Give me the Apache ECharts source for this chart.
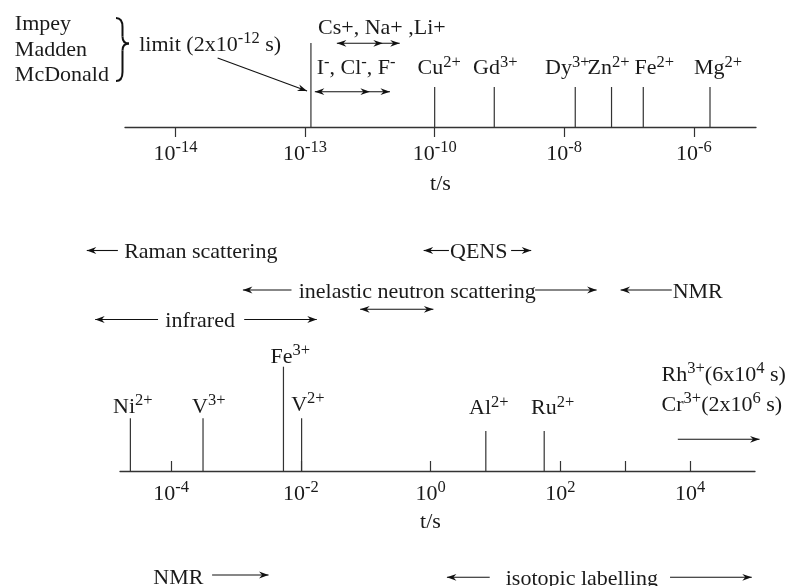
<!DOCTYPE html>
<html><head><meta charset="utf-8">
<script src="https://cdn.jsdelivr.net/npm/echarts@6/dist/echarts.min.js"></script>
<style>html,body{margin:0;padding:0;background:#fff}#c{width:789px;height:586px}</style>
</head><body><div id="c"></div>
<script>
// ================= DATA (x values are log10 of t / s) =================
// --- top panel ---
const topTickValues = [-14, -12, -10, -8, -6];
const topTickLabels = ['10^-14', '10^-13', '10^-10', '10^-8', '10^-6'];
const topIonNames   = ['Cu^2+', 'Gd^3+', 'Dy^3+', 'Zn^2+', 'Fe^2+', 'Mg^2+'];
const topIonLogT    = [-10, -9.08, -7.83, -7.27, -6.78, -5.75];
const limitLogT     = -11.91;                 // 2x10^-12 s limit
const limitText     = 'limit (2x10^-12 s)';
const authors       = ['Impey', 'Madden', 'McDonald'];
const cationText    = 'Cs+, Na+ ,Li+';
const cationRange   = [-11.51, -10.80, -10.54]; // start, inner head, end
const anionText     = 'I^-, Cl^-, F^-';
const anionRange    = [-11.85, -11.00, -10.69];

// --- techniques (same log10 t scale as top axis) ---
const techNames      = ['Raman scattering', 'QENS', 'inelastic neutron scattering', 'NMR', 'infrared'];
const techCenter     = [-13.61, -9.32, -10.27, -5.94, -13.62];
const techLeftArrow  = [[-15.37, -14.89], [-10.17, -9.78], [-12.96, -12.21], [-7.13, -6.34], [-15.24, -14.27]];
const techRightArrow = [null, [-8.82, -8.51], [-8.45, -7.50], null, [-12.94, -11.82]];
const techDoubleArrow = [-11.15, -10.02];

// --- bottom panel ---
const bottomTickValues  = [-4, -2, 0, 2, 3, 4];
const bottomLabelValues = [-4, -2, 0, 2, 4];
const bottomTickLabels  = ['10^-4', '10^-2', '10^0', '10^2', '10^4'];
const bottomIonNames    = ['Ni^2+', 'V^3+', 'Fe^3+', 'V^2+', 'Al^2+', 'Ru^2+'];
const bottomIonLogT     = [-4.63, -3.51, -2.27, -1.99, 0.85, 1.75];
const slowIons          = ['Rh^3+(6x10^4 s)', 'Cr^3+(2x10^6 s)'];
const slowStart         = 3.56;
const slowArrow         = [3.81, 5.07];
const bottomTechNames   = ['NMR', 'isotopic labelling'];
const bottomTechCenter  = [-3.89, 2.33];
const bottomTechLeft    = [null, [0.25, 0.91]];
const bottomTechRight   = [[-3.37, -2.50], [3.69, 4.95]];

// ================= LAYOUT / STYLE =================
const FONT = "'Liberation Serif','Times New Roman',serif";
const TXT = '#1a1a1a', LINE = '#333';
const LAY = {
  topLineLen: 40, limitLen: 84, topLabelY: 60.3,
  topLabelShift: [4.5, 1, -8, -3, 11, 8],
  authorX: -16.48, authorY: [104.3, 78.6, 53.6],
  limitTextX: -14.56, limitTextY: 83.6,
  limitArrow: [-13.35, 69, -11.97, 36],
  cationTextX: -11.80, cationTextY: 100.3, cationArrowY: 83.7,
  anionTextX: -11.82, anionTextY: 60.3, anionArrowY: 35.3,
  techRow: [79.5, 79.5, 40, 40, 10.5], techDoubleY: 20.7,
  bottomLineLen: [52.7, 52.7, 104.3, 52.7, 40, 40],
  bottomLabelY: [66, 66, 116, 67.6, 64.3, 64.3],
  bottomLabelShift: [2.5, 5.7, 6.8, 6.3, 3, 8.5],
  slowY: [97.6, 67.6], slowArrowY: 31.7,
  bottomTechY: [-105.7, -106], bottomTechArrowY: [-104, -106.3]
};

function toRich(str) {
  let out = '', last = 0, m;
  const re = /\^([-+0-9]+)/g;
  while ((m = re.exec(str))) {
    if (m.index > last) out += '{b|' + str.slice(last, m.index) + '}';
    out += '{s|' + m[1] + '}';
    last = re.lastIndex;
  }
  if (last < str.length) out += '{b|' + str.slice(last) + '}';
  return out;
}
const RICH = {
  b: {fontFamily: FONT, fontSize: 22, lineHeight: 26, verticalAlign: 'bottom', color: TXT},
  s: {fontFamily: FONT, fontSize: 16.5, lineHeight: 20, verticalAlign: 'top', color: TXT}
};

// ---------- element specs ----------
function arrow(list, x1, x2, y, heads) { list.push({kind: 'arrow', x1, x2, y, heads}); }
const topSpecs = [], midSpecs = [], botSpecs = [];

topIonNames.forEach((n, i) => {
  topSpecs.push({kind: 'vline', x: topIonLogT[i], len: LAY.topLineLen});
  topSpecs.push({kind: 'text', x: topIonLogT[i], y: LAY.topLabelY, text: n, align: 'center', dx: LAY.topLabelShift[i]});
});
topSpecs.push({kind: 'vline', x: limitLogT, len: LAY.limitLen});
topSpecs.push({kind: 'slant', p: LAY.limitArrow});
topSpecs.push({kind: 'text', x: LAY.limitTextX, y: LAY.limitTextY, text: limitText, align: 'left'});
authors.forEach((a, i) => topSpecs.push({kind: 'text', x: LAY.authorX, y: LAY.authorY[i], text: a, align: 'left'}));
topSpecs.push({kind: 'text', x: LAY.cationTextX, y: LAY.cationTextY, text: cationText, align: 'left'});
arrow(topSpecs, cationRange[0], cationRange[2], LAY.cationArrowY, [[cationRange[0], -1], [cationRange[1], 1], [cationRange[2], 1]]);
topSpecs.push({kind: 'text', x: LAY.anionTextX, y: LAY.anionTextY, text: anionText, align: 'left'});
arrow(topSpecs, anionRange[0], anionRange[2], LAY.anionArrowY, [[anionRange[0], -1], [anionRange[1], 1], [anionRange[2], 1]]);

techNames.forEach((n, i) => {
  const y = LAY.techRow[i];
  midSpecs.push({kind: 'text', x: techCenter[i], y, text: n, align: 'center'});
  const l = techLeftArrow[i], r = techRightArrow[i];
  if (l) arrow(midSpecs, l[0], l[1], y, [[l[0], -1]]);
  if (r) arrow(midSpecs, r[0], r[1], y, [[r[1], 1]]);
});
arrow(midSpecs, techDoubleArrow[0], techDoubleArrow[1], LAY.techDoubleY, [[techDoubleArrow[0], -1], [techDoubleArrow[1], 1]]);

bottomIonNames.forEach((n, i) => {
  botSpecs.push({kind: 'vline', x: bottomIonLogT[i], len: LAY.bottomLineLen[i]});
  botSpecs.push({kind: 'text', x: bottomIonLogT[i], y: LAY.bottomLabelY[i], text: n, align: 'center', dx: LAY.bottomLabelShift[i]});
});
slowIons.forEach((n, i) => botSpecs.push({kind: 'text', x: slowStart, y: LAY.slowY[i], text: n, align: 'left'}));
arrow(botSpecs, slowArrow[0], slowArrow[1], LAY.slowArrowY, [[slowArrow[1], 1]]);
bottomTechNames.forEach((n, i) => {
  botSpecs.push({kind: 'text', x: bottomTechCenter[i], y: LAY.bottomTechY[i], text: n, align: 'center'});
  const l = bottomTechLeft[i], r = bottomTechRight[i], ay = LAY.bottomTechArrowY[i];
  if (l) arrow(botSpecs, l[0], l[1], ay, [[l[0], -1]]);
  if (r) arrow(botSpecs, r[0], r[1], ay, [[r[1], 1]]);
});

// ---------- renderer ----------
function head(tx, ty, ux, uy) {
  const L = 9.5, W = 3.4, N = 6.5, px = -uy, py = ux;
  return {type: 'polygon', shape: {points: [
    [tx, ty],
    [tx - ux * L + px * W, ty - uy * L + py * W],
    [tx - ux * N, ty - uy * N],
    [tx - ux * L - px * W, ty - uy * L - py * W]
  ]}, style: {fill: '#111'}};
}
function makeRenderer(specs) {
  return function (params, api) {
    const s = specs[params.dataIndex];
    const P = (x, y) => api.coord([x, y]);
    const ch = [];
    if (s.kind === 'vline') {
      const a = P(s.x, 0), b = P(s.x, s.len);
      ch.push({type: 'line', shape: {x1: a[0], y1: a[1], x2: b[0], y2: b[1]}, style: {stroke: LINE, lineWidth: 1.2}});
    } else if (s.kind === 'arrow') {
      const a = P(s.x1, s.y), b = P(s.x2, s.y);
      ch.push({type: 'line', shape: {x1: a[0], y1: a[1], x2: b[0], y2: b[1]}, style: {stroke: '#111', lineWidth: 1.1}});
      s.heads.forEach(h => { const t = P(h[0], s.y); ch.push(head(t[0], t[1], h[1], 0)); });
    } else if (s.kind === 'slant') {
      const a = P(s.p[0], s.p[1]), b = P(s.p[2], s.p[3]);
      const dx = b[0] - a[0], dy = b[1] - a[1], d = Math.hypot(dx, dy);
      ch.push({type: 'line', shape: {x1: a[0], y1: a[1], x2: b[0], y2: b[1]}, style: {stroke: '#111', lineWidth: 1.1}});
      ch.push(head(b[0], b[1], dx / d, dy / d));
    } else if (s.kind === 'text') {
      const a = P(s.x, s.y);
      ch.push({type: 'text', x: a[0] + (s.dx || 0), y: a[1], style: {
        text: toRich(s.text), rich: RICH, align: s.align, verticalAlign: 'middle',
        fontFamily: FONT, fontSize: 22, fill: TXT}});
    }
    return {type: 'group', children: ch};
  };
}
function customSeries(specs, idx) {
  return {type: 'custom', xAxisIndex: idx, yAxisIndex: idx, clip: false, silent: true, animation: false,
    renderItem: makeRenderer(specs),
    data: specs.map(s => [s.x !== undefined ? s.x : (s.x1 !== undefined ? s.x1 : s.p[0]), s.y !== undefined ? s.y : 0])};
}

// curly brace (decoration) built from quadratic curves
const bx0 = 116, bxm = 122.5, bxt = 129, by0 = 18, byt = 43.5, by1 = 81;
const braceStyle = {stroke: '#111', lineWidth: 2, fill: 'none'};
const braceParts = [
  {type: 'bezierCurve', shape: {x1: bx0, y1: by0, cpx1: bxm, cpy1: by0, x2: bxm, y2: by0 + 9}},
  {type: 'line', shape: {x1: bxm, y1: by0 + 9, x2: bxm, y2: byt - 7}},
  {type: 'bezierCurve', shape: {x1: bxm, y1: byt - 7, cpx1: bxm, cpy1: byt, x2: bxt, y2: byt}},
  {type: 'bezierCurve', shape: {x1: bxt, y1: byt, cpx1: bxm, cpy1: byt, x2: bxm, y2: byt + 7}},
  {type: 'line', shape: {x1: bxm, y1: byt + 7, x2: bxm, y2: by1 - 9}},
  {type: 'bezierCurve', shape: {x1: bxm, y1: by1 - 9, cpx1: bxm, cpy1: by1, x2: bx0, y2: by1}}
].map(p => Object.assign(p, {silent: true, style: braceStyle}));

const axisLineStyle = {lineStyle: {color: LINE, width: 1.3}};
const chart = echarts.init(document.getElementById('c'), null, {renderer: 'canvas'});
chart.setOption({
  backgroundColor: '#fff',
  animation: false,
  grid: [
    {left: 125, right: 33, top: 27, height: 100},
    {left: 125, right: 33, top: 230, height: 100},
    {left: 120, right: 34, top: 371, height: 100}
  ],
  xAxis: [
    {gridIndex: 0, type: 'value', min: -14.78, max: -5.04, splitLine: {show: false},
     axisLine: axisLineStyle,
     axisTick: {customValues: topTickValues, length: 10, inside: false, lineStyle: {color: LINE, width: 1.2}},
     axisLabel: {customValues: topTickValues, margin: 12, rich: RICH,
       formatter: v => toRich(topTickLabels[topTickValues.indexOf(v)])},
     name: 't/s', nameLocation: 'middle', nameGap: 44,
     nameTextStyle: {fontFamily: FONT, fontSize: 22, color: TXT, lineHeight: 26}},
    {gridIndex: 1, type: 'value', min: -14.78, max: -5.04, show: false},
    {gridIndex: 2, type: 'value', min: -4.79, max: 5.0, splitLine: {show: false},
     axisLine: axisLineStyle,
     axisTick: {customValues: bottomTickValues, length: 10, inside: true, lineStyle: {color: LINE, width: 1.2}},
     axisLabel: {customValues: bottomLabelValues, margin: 8.5, rich: RICH,
       formatter: v => toRich(bottomTickLabels[bottomLabelValues.indexOf(v)])},
     name: 't/s', nameLocation: 'middle', nameGap: 38,
     nameTextStyle: {fontFamily: FONT, fontSize: 22, color: TXT, lineHeight: 26, padding: [0, 14, 0, 0]}}
  ],
  yAxis: [0, 1, 2].map(i => ({gridIndex: i, type: 'value', min: 0, max: 100, show: false})),
  graphic: braceParts,
  series: [customSeries(topSpecs, 0), customSeries(midSpecs, 1), customSeries(botSpecs, 2)]
});
</script></body></html>
